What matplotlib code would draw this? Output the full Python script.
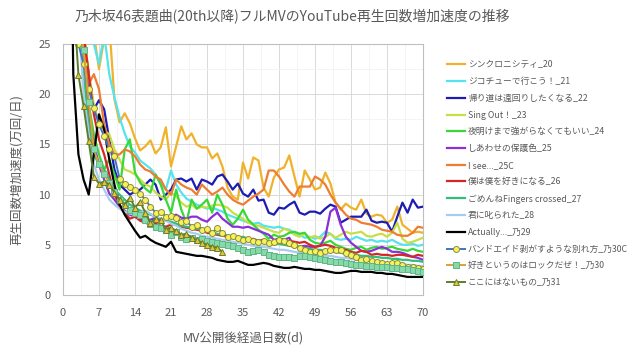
import numpy as np
import matplotlib
matplotlib.use("Agg")
import matplotlib.pyplot as plt

plt.rcParams['font.family'] = ['Noto Sans CJK JP', 'DejaVu Sans']

# 再生回数増加速度 (万回/日), day 1 .. day N
s20 = [80, 60, 45, 36, 30, 26, 22.5, 25.5, 27, 19.5,
       17.2, 18.1, 17.1, 15.6, 14.4, 14.8, 15.4, 14.1, 14.7, 16.7,
       12.8, 14.8, 16.8, 15.5, 16.1, 15.0, 14.7, 14.7, 13.6, 14.1,
       12.8, 10.7, 9.8, 9.5, 13.2, 11.6, 13.7, 13.4, 10.7, 9.8,
       11.7, 12.5, 12.7, 13.9, 11.8, 9.8, 12.4, 11.5, 10.5, 10.7,
       12.2, 11.1, 9.2, 8.5, 9.1, 8.7, 8.5, 9.5, 8.1, 7.8,
       8.0, 7.9, 7.2, 7.5, 8.8, 7.0, 6.6, 6.2, 6.3, 6.2]
s21 = [90, 60, 42, 32, 27, 25, 23, 26, 22, 19.7,
       17.7, 16.1, 14.8, 14.2, 13.4, 13.0, 12.6, 12.0, 11.1, 10.5,
       12.4, 11.0, 10.2, 9.6, 9.3, 9.0, 8.8, 8.6, 8.7, 8.5,
       8.3, 8.0, 7.8, 7.6, 7.4, 7.2, 7.1, 7.2, 6.9, 6.8,
       6.7, 6.8, 6.6, 6.5, 6.2, 6.0, 5.7, 5.8, 5.6, 5.8,
       6.3, 6.1, 5.6, 5.5, 5.6, 5.5, 5.8, 5.6, 5.4, 5.5,
       5.3, 5.4, 5.3, 5.5, 5.2, 5.0, 5.0, 5.1, 4.9, 5.0]
s22 = [100, 50, 32, 26, 22, 18.5, 19.4, 18.5, 15.5, 12.5,
       11.0, 10.5, 10.0, 10.3, 10.5, 11.0, 11.5, 11.0, 9.5, 10.0,
       10.5, 11.5, 11.6, 11.3, 11.6, 10.5, 11.5, 11.3, 11.0, 11.8,
       12.0, 11.3, 10.5, 11.1, 10.1, 9.8, 10.5, 9.4, 9.5, 8.2,
       8.0, 8.7, 8.6, 9.0, 9.3, 8.2, 8.0, 8.3, 8.3, 8.1,
       8.6, 9.0, 8.8, 7.2, 7.5, 7.8, 7.8, 7.8, 8.5, 7.4,
       7.2, 7.3, 7.2, 6.3, 7.8, 9.2, 8.2, 9.5, 8.7, 8.8]
s23 = [90, 55, 35, 27, 22, 19, 17, 16.4, 16, 14.5,
       13.5, 12.5, 12.3, 12.0, 11.5, 11.0, 10.8, 10.2, 9.8, 9.5,
       10.2, 9.8, 9.2, 8.8, 9.0, 8.6, 8.8, 8.7, 8.9, 9.0,
       8.9, 8.7, 8.2, 7.9, 7.6, 7.2, 7.0, 6.9, 6.7, 6.5,
       6.3, 6.2, 6.6, 6.4, 6.0, 5.8, 6.1, 5.7, 5.9, 5.6,
       5.8, 6.1, 5.7, 6.0, 6.3, 6.1, 6.2, 6.3, 5.9, 5.8,
       6.0, 6.1, 5.8, 6.2, 7.2, 5.6, 5.2, 5.3, 5.5, 5.7]
s24 = [100, 60, 35, 25, 19, 16, 14, 12.5, 13.5, 12,
       10.5, 14.5, 15.5, 12.2, 11.2, 10.6, 10.2, 12.0, 11.0, 9.5,
       8.2, 10.5, 8.5, 7.2, 9.5, 8.6, 9.0, 9.5, 8.2, 10.0,
       9.0, 7.6, 7.0, 7.6, 8.5, 7.5, 7.0, 6.5, 6.1, 5.6,
       6.0, 5.8, 5.9, 6.2, 6.3, 6.1, 6.2, 5.5, 5.2, 5.1,
       5.2, 5.4, 5.0, 4.8, 4.6, 4.5, 4.7, 4.8, 4.5, 4.7,
       4.8, 4.6, 4.7, 4.8, 4.6, 4.5, 4.4, 4.6, 4.4, 4.3]
s25 = [80, 45, 30, 23, 18, 15, 13, 11.5, 10.1, 9.5,
       8.8, 8.4, 8.0, 7.8, 7.6, 7.4, 7.5, 7.7, 7.4, 7.6,
       7.8, 8.0, 7.7, 7.6, 7.8, 7.8, 7.5, 7.3, 7.8, 8.2,
       7.6, 7.2, 6.8, 6.8, 6.7, 6.8, 6.6, 6.4, 6.2, 6.0,
       5.5, 5.6, 5.5, 5.7, 4.8, 4.8, 4.9, 4.8, 4.8, 4.9,
       5.8, 8.3, 8.7, 7.0, 5.8, 5.2, 4.8, 4.4, 4.3, 4.4,
       4.6, 4.8, 4.6, 4.3, 4.3, 4.2, 4.0, 3.8, 3.7, 3.5]
s25c = [100, 55, 35, 26, 21, 22, 20.5, 17, 15, 14,
        14.0, 14.5, 14.3, 13.8, 13.0, 12.5, 12.3, 11.8, 11.5, 10.5,
        10.0, 11.5, 11.0, 10.7, 10.5, 10.0, 11.0, 10.5, 10.0, 10.3,
        10.7, 10.0, 9.5, 9.2, 9.0, 9.4, 9.8, 10.1, 10.5, 12.4,
        12.4, 11.8, 11.0, 10.3, 9.8, 10.8, 10.8, 10.8, 11.8, 11.5,
        11.0, 10.0, 9.2, 8.6, 8.0, 7.6, 7.5, 7.2, 7.1, 7.0,
        6.8, 6.5, 6.4, 6.3, 6.0, 5.9, 5.9, 6.2, 6.8, 6.7]
s26 = [100, 55, 35, 26, 22, 18, 15.5, 14, 12, 10,
       9.0, 8.2, 7.6, 7.8, 7.4, 7.2, 7.0, 7.1, 6.9, 6.8,
       7.0, 7.1, 6.8, 6.7, 6.6, 6.5, 6.4, 6.2, 6.1, 6.0,
       5.9, 5.8, 5.8, 5.7, 5.6, 5.5, 5.6, 5.4, 5.5, 5.3,
       5.2, 5.3, 5.2, 5.4, 5.3, 5.2, 5.3, 5.0, 4.8, 4.9,
       5.0, 4.9, 4.7, 4.6, 4.5, 4.3, 4.2, 4.4, 4.3, 4.0,
       4.1, 4.0, 4.0, 3.9, 4.0, 4.0, 3.9, 3.8, 4.0, 3.9]
s27 = [90, 50, 30, 22, 17, 14, 13, 12.5, 11.5, 10.5,
       10.0, 9.5, 9.0, 8.7, 8.4, 8.2, 8.0, 7.8, 7.6, 7.4,
       7.3, 7.1, 6.9, 6.8, 6.7, 6.6, 6.5, 6.3, 6.2, 6.1,
       6.0, 5.9, 5.8, 5.7, 5.8, 5.6, 5.5, 5.4, 5.3, 5.2,
       5.1, 5.1, 5.0, 4.9, 4.8, 4.8, 4.7, 4.6, 4.5, 4.5,
       4.4, 4.4, 4.3, 4.2, 4.1, 4.1, 4.0, 3.9, 3.9, 3.8,
       3.8, 3.7, 3.7, 3.6, 3.6, 3.5, 3.5, 3.4, 3.4, 3.3]
s28 = [80, 45, 28, 20, 16, 13, 11.5, 10.5, 9.5, 9.0,
       8.6, 8.3, 8.1, 8.0, 8.2, 8.4, 8.1, 7.8, 7.6, 7.4,
       7.1, 6.9, 6.6, 6.4, 6.2, 6.1, 5.9, 5.8, 5.7, 5.6,
       5.5, 5.4, 5.3, 5.2, 5.1, 5.0, 4.9, 4.8, 4.8, 4.7,
       4.6, 4.5, 4.5, 4.4, 4.3, 4.2, 4.2, 4.1, 4.0, 4.0,
       3.9, 3.9, 3.8, 3.7, 3.7, 3.6, 3.5, 3.5, 3.4, 3.4,
       3.3, 3.3, 3.2, 3.2, 3.1, 3.1, 3.0, 3.0, 2.9, 2.9]
s29 = [60, 22, 14, 11.5, 10, 14, 18, 16.5, 13.5, 11,
       9.0, 8.0, 7.2, 6.4, 5.7, 5.9, 5.5, 5.2, 5.0, 4.8,
       5.3, 4.3, 4.2, 4.1, 4.0, 3.9, 3.9, 3.8, 3.7, 3.5,
       3.4, 3.3, 3.3, 3.4, 3.2, 3.0, 3.0, 3.1, 3.2, 3.1,
       2.9, 2.8, 2.7, 2.7, 2.8, 2.7, 2.6, 2.6, 2.5, 2.5,
       2.4, 2.3, 2.2, 2.2, 2.3, 2.4, 2.4, 2.3, 2.3, 2.3,
       2.2, 2.2, 2.1, 2.1, 2.0, 1.9, 1.8, 1.8, 1.8, 1.8]
s30c = [80, 40, 25, 23, 20.5, 18.6, 17.0, 15.8, 14.5, 13.8,
        11.6, 11.1, 10.8, 10.5, 10.1, 9.5, 8.8, 8.2, 8.3, 7.8,
        7.9, 7.7, 7.3, 7.4, 6.8, 7.0, 6.5, 6.6, 6.2, 6.7,
        6.2, 5.8, 5.9, 5.7, 5.5, 5.6, 5.4, 5.3, 5.4, 5.2,
        5.3, 5.5, 5.4, 5.2, 5.0, 4.7, 4.5, 4.3, 4.4, 4.2,
        4.4, 4.5, 4.5, 4.5, 4.2, 4.0, 3.8, 3.5, 3.6, 3.4,
        3.3, 3.2, 3.1, 3.2, 3.2, 3.0, 2.8, 2.8, 2.7, 2.6]
s30 = [70, 40, 28, 24.4, 19.2, 14.5, 13.0, 12.1, 11.2, 10.3,
       9.5, 9.0, 8.5, 8.2, 8.0, 7.5, 7.1, 6.8, 6.7, 6.5,
       6.0, 6.3, 5.8, 5.6, 5.7, 5.5, 5.6, 5.4, 5.3, 5.2,
       5.1, 5.0, 4.9, 4.7, 4.5, 4.3, 4.4, 4.5, 4.3, 4.0,
       3.9, 3.8, 3.8, 3.8, 3.7, 3.9, 3.9, 3.8, 3.7, 3.6,
       3.5, 3.4, 3.3, 3.3, 3.2, 3.1, 3.0, 3.0, 2.9, 2.9,
       2.8, 2.8, 2.8, 2.7, 2.7, 2.6, 2.6, 2.5, 2.4, 2.3]
s31 = [60, 30, 21.9, 18.8, 15.3, 11.8, 11.1, 11.3, 11.0, 10.2,
       9.5, 9.0, 9.7, 8.7, 9.3, 8.2, 7.2, 7.6, 7.5, 6.5,
       6.7, 6.4, 6.0, 6.1, 5.7, 5.5, 5.2, 5.0, 4.8, 4.7, 4.3]

labels = ['シンクロニシティ_20', 'ジコチューで行こう！_21', '帰り道は遠回りしたくなる_22',
          'Sing Out！_23', '夜明けまで強がらなくてもいい_24', 'しあわせの保護色_25',
          'I see..._25C', '僕は僕を好きになる_26', 'ごめんねFingers crossed_27',
          '君に叱られた_28', 'Actually..._乃29', 'バンドエイド剥がすような別れ方_乃30C',
          '好きというのはロックだぜ！_乃30', 'ここにはないもの_乃31']
series = [s20, s21, s22, s23, s24, s25, s25c, s26, s27, s28, s29, s30c, s30, s31]

# (line colour, marker, marker face, marker edge)
styles = [
    ('#F0B22A', None, None, None),
    ('#55E3EC', None, None, None),
    ('#1C1CB4', None, None, None),
    ('#C9DE45', None, None, None),
    ('#38D838', None, None, None),
    ('#8A30D8', None, None, None),
    ('#ED7D31', None, None, None),
    ('#D42626', None, None, None),
    ('#2FBF7A', None, None, None),
    ('#A8CCF0', None, None, None),
    ('#000000', None, None, None),
    ('#4472C4', 'o', '#F6F25A', '#8C8C3C'),
    ('#E0A030', 's', '#86D9A8', '#5FB585'),
    ('#5A7F2A', '^', '#E6C43A', '#6B7F2A'),
]

grey = '#595959'

fig = plt.figure(figsize=(6.4, 3.53), dpi=100)
ax = fig.add_axes([63 / 640, 58 / 353, 360 / 640, 251 / 353])

for vals, lab, (col, mk, mf, me) in zip(series, labels, styles):
    days = np.arange(1, len(vals) + 1)
    if mk is None:
        ax.plot(days, vals, color=col, lw=1.6, label=lab, zorder=3)
    else:
        ax.plot(days, vals, color=col, lw=1.4, marker=mk, markersize=4.3,
                markerfacecolor=mf, markeredgecolor=me, markeredgewidth=0.7,
                label=lab, zorder=3)

ax.set_xlim(0, 70)
ax.set_ylim(0, 25)
ax.set_xticks(np.arange(0, 71, 7))
ax.set_yticks(np.arange(0, 26, 5))
ax.set_xticks(np.arange(0, 71, 3.5), minor=True)
ax.set_yticks(np.arange(0, 26, 2.5), minor=True)
ax.grid(which='major', color='#D9D9D9', lw=0.7)
ax.grid(which='minor', color='#F2F2F2', lw=0.6)
ax.set_axisbelow(True)
ax.tick_params(which='both', length=0, colors=grey, labelsize=8)
ax.tick_params(axis='y', pad=9)
ax.tick_params(axis='x', pad=9)
for sp in ax.spines.values():
    sp.set_color('#BFBFBF')

ax.set_xlabel('MV公開後経過日数(d)', fontsize=9, color=grey, labelpad=11)
ax.set_ylabel('再生回数増加速度(万回/日)', fontsize=9, color=grey, labelpad=11)
fig.text(0.456, 0.952, '乃木坂46表題曲(20th以降)フルMVのYouTube再生回数増加速度の推移',
         ha='center', va='center', fontsize=10, color=grey)

leg = fig.legend(loc='upper left', bbox_to_anchor=(443 / 640, 1 - 57 / 353),
                 frameon=False, fontsize=6.3, labelspacing=0.88,
                 handlelength=2.1, handletextpad=0.35, borderaxespad=0)
for t in leg.get_texts():
    t.set_color(grey)

fig.savefig('out.png', dpi=100)
